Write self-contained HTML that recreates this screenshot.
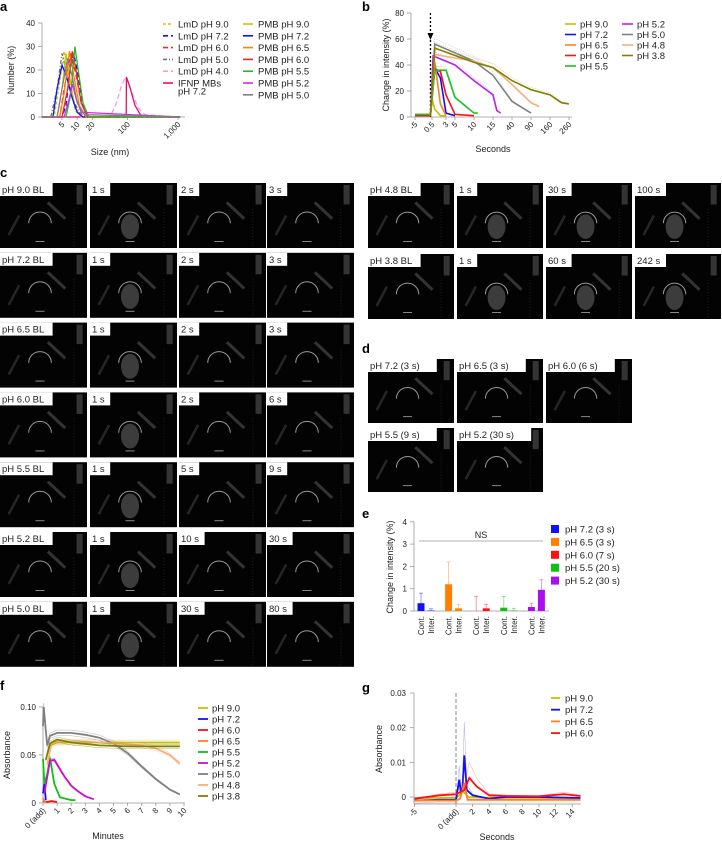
<!DOCTYPE html>
<html><head><meta charset="utf-8"><style>
html,body{margin:0;padding:0;background:#fff;width:722px;height:842px;overflow:hidden}
svg{display:block;font-family:"Liberation Sans",sans-serif}
</style></head><body>
<svg id="fig" width="722" height="842" viewBox="0 0 722 842" xmlns="http://www.w3.org/2000/svg"></svg>
<script>
// ---------- Panel a data ----------
const aSeriesNames = ["LmD pH 9.0","LmD pH 7.2","LmD pH 6.0","LmD pH 5.0","LmD pH 4.0","IFNP MBs","PMB pH 9.0","PMB pH 7.2","PMB pH 6.5","PMB pH 6.0","PMB pH 5.5","PMB pH 5.2","PMB pH 5.0"];
const aSizes = [
 [2,3.5,4.5,5.5,7,9,12,1100],
 [2,5,6,7,8.5,10,13,17,1100],
 [2,4.5,5.5,7.5,9.5,12,16,1100],
 [2,3,4,5,6,8,11,15,1100],
 [2,45,60,75,90,120,160,220,1100],
 [2,94,95,110,140,180,250,1100],
 [2,4,5,6,7.5,9,12,1100],
 [2,3.3,4,5,6,8,10,13,1100],
 [2,4.5,5.5,7,8.5,11,15,1100],
 [2,5,6.5,8,9.5,12,16,1100],
 [2,6,7.5,9,10.5,13,17,1100],
 [2,5.5,7,8,9.5,12,1100],
 [2,4,5,6.5,8,10,14,1100]
];
const aValues = [
 [0,0,15,28,15,3,0,0],
 [0,0,5,18,27,20,5,0,0],
 [0,0,12,27,18,6,0,0],
 [0,0,12,27,20,8,2,0,0],
 [0,0,6,13,17,11,4,1,0],
 [0,0,17,13,5,1,0,0],
 [0,0,12,27,14,4,0,0],
 [0,0,12,22,18,8,2,0,0],
 [0,0,10,28,18,5,0,0],
 [0,0,12,28,20,6,0,0],
 [0,0,10,30,20,6,0,0],
 [0,0,8,14,8,2,0],
 [0,0,12,25,17,6,1,0]
];
const aColors = ["#c8c800","#1010ff","#ff2020","#707070","#ee99ee","#e0106a","#c8c800","#1010ff","#ff8000","#ff2020","#20c020","#cc30dd","#808080"];
const aDash = ["3,2","5,3","5,3","4,2,1,2","5,3","","","","","","","",""];
const aYTicks = [0,10,20,30,40];
const aXTicks = [5,10,20,100,1000];
const aXTickLabels = ["5","10","20","100","1,000"];

// ---------- Panel b data ----------
const bTickVals = [-5,0.5,3,5,10,15,40,90,160,260];
const bYTicks = [0,20,40,60,80];
const bNames = ["pH 9.0","pH 7.2","pH 6.5","pH 6.0","pH 5.5","pH 5.2","pH 5.0","pH 4.8","pH 3.8"];
const bColors = ["#c8c000","#1010ff","#ff8020","#ff1010","#20c020","#bb20ee","#808080","#f4b080","#808000"];
const bX = [
 [-5,0,0.5,1,2,3],
 [-5,0,0.7,2,3,5],
 [-5,0,1,2,3],
 [-5,0,1,2,3,5,10],
 [-5,0,1,3,5,10,11],
 [0,0.7,5,10,15,20,25],
 [0,1,10,15,40,90],
 [0,1,10,15,40,90,120],
 [0,1,10,15,40,90,160,220,260]
];
const bY = [
 [2,2,14,6,1,1],
 [1,1,40,30,3,1],
 [1,1,42,10,1],
 [1,1,37,35,17,2,1],
 [2,2,36,36,15,3,3],
 [1,47,40,28,17,5,3],
 [1,56,43,32,12,3],
 [1,48,43,38,25,11,8],
 [1,53,42,38,28,21,17,11,10]
];

// ---------- Panel e data ----------
const eGroups = ["pH 7.2 (3 s)","pH 6.5 (3 s)","pH 6.0 (7 s)","pH 5.5 (20 s)","pH 5.2 (30 s)"];
const eColors = ["#1010ff","#ff8000","#ff1010","#10c010","#aa10ee"];
const eCont = [0.35,1.2,0.0,0.15,0.18];
const eContErr = [0.8,2.2,0.65,0.65,0.35];
const eInter = [0.02,0.12,0.12,0.02,0.95];
const eInterErr = [0.1,0.3,0.3,0.12,1.4];
const eYTicks = [0,1,2,3,4];

// ---------- Panel f data ----------
const fNames = ["pH 9.0","pH 7.2","pH 6.0","pH 6.5","pH 5.5","pH 5.2","pH 5.0","pH 4.8","pH 3.8"];
const fColors = ["#c8c000","#1010ff","#ff1010","#ff8020","#10c010","#cc10cc","#808080","#f4b080","#808000"];
const fX = [
 [0.5,1,3,5,7,9,9.7],
 [0,0.1,0.2],
 [0,0.3,0.6,1],
 [0,0.1,0.2],
 [0,0.1,0.3,0.5,0.8,1.2,2,2.3],
 [0.1,0.5,0.8,1.5,2,2.5,3,3.6],
 [0,0.05,0.3,0.5,1,2,3,4,5,6,7,8,9,9.7],
 [0.3,0.6,1,3,5,7,8,9,9.7],
 [0.2,0.5,1,2,4,6,9.7]
];
const fY = [
 [0.06,0.063,0.063,0.063,0.063,0.063,0.063],
 [0.01,0.02,0.003],
 [0.002,0.001,0.002,0.001],
 [0.005,0.002,0.001],
 [0.046,0.02,0.03,0.047,0.02,0.006,0.003,0.003],
 [0.01,0.044,0.045,0.028,0.018,0.012,0.007,0.004],
 [0.08,0.1,0.06,0.07,0.073,0.073,0.071,0.068,0.062,0.052,0.038,0.025,0.014,0.009],
 [0.04,0.062,0.064,0.064,0.062,0.06,0.057,0.05,0.041],
 [0.045,0.062,0.066,0.063,0.06,0.059,0.059]
];
const fYTicks = [0,0.05,0.10];
const fYTickLabels = ["0","0.05","0.10"];
const fXTicks = [0,1,2,3,4,5,6,7,8,9,10];

// ---------- Panel g data ----------
const gNames = ["pH 9.0","pH 7.2","pH 6.5","pH 6.0"];
const gColors = ["#c8c000","#1010ff","#ff8020","#ff1010"];
const gX = [
 [-5,0,0.9,1.5,4,8,12,15],
 [-5,-2,0,0.4,0.6,0.8,1,1.3,2,4,6,10,15],
 [-5,0,0.5,1,1.4,4,8,15],
 [-5,-2,0,1,1.6,2.5,4,6,10,13,15]
];
const gY = [
 [-0.0003,-0.0002,0.0015,0,-0.0002,-0.0002,-0.0003,-0.0002],
 [-0.001,-0.0008,-0.0008,0.005,0.001,0.003,0.012,0.002,0.0005,-0.0005,0,0,-0.0003],
 [-0.001,-0.001,-0.0005,0.004,-0.0008,-0.0008,-0.0008,-0.0008],
 [-0.0005,0.0005,0.0008,0.002,0.0055,0.003,0.0005,0.0003,0.0002,0.0008,0.0003]
];
const gYTicks = [0,0.01,0.02,0.03];
const gYTickLabels = ["0","0.01","0.02","0.03"];
const gXTicks = [-5,0,2,4,6,8,10,12,14];
const gXTickLabels = ["-5","0 (add)","2","4","6","8","10","12","14"];

// ---------- Ultrasound panels ----------
const cLeftLabels = [["pH 9.0 BL","1 s","2 s","3 s"],["pH 7.2 BL","1 s","2 s","3 s"],["pH 6.5 BL","1 s","2 s","3 s"],["pH 6.0 BL","1 s","2 s","6 s"],["pH 5.5 BL","1 s","5 s","9 s"],["pH 5.2 BL","1 s","10 s","30 s"],["pH 5.0 BL","1 s","30 s","80 s"]];
const cRightLabels = [["pH 4.8 BL","1 s","30 s","100 s"],["pH 3.8 BL","1 s","60 s","242 s"]];
const dLabels = [["pH 7.2 (3 s)","pH 6.5 (3 s)","pH 6.0 (6 s)"],["pH 5.5 (9 s)","pH 5.2 (30 s)"]];

// ---------- helpers ----------
const NS="http://www.w3.org/2000/svg";
const svg=document.getElementById('fig');
function mk(tag,attrs,parent){const e=document.createElementNS(NS,tag);for(const k in attrs)e.setAttribute(k,attrs[k]);(parent||svg).appendChild(e);return e;}
function txt(x,y,s,size,anchor,extra,parent){const t=mk('text',Object.assign({x:x,y:y,'font-size':size,'text-anchor':anchor||'start',fill:'#222'},extra||{}),parent);t.textContent=s;return t;}
function grp(name){const g=mk('g',{});return g;}
function pathOf(xs,ys,fx,fy){return xs.map((v,i)=>(i?'L':'M')+fx(v).toFixed(1)+','+fy(ys[i]).toFixed(1)).join(' ');}

// panel letters
[["a",0,11],["b",362,11],["c",0,177],["d",362,353],["e",362,518],["f",0,690],["g",362,692]].forEach(p=>{
 const t=txt(p[1],p[2],p[0],13,'start',{'font-weight':'bold',fill:'#000'});
 
 
});

// ===== Panel a =====
(function(){
 const xA=v=>62+50.4*(Math.log10(v)-0.699);
 const yA=v=>117-2.35*v;
 const g=grp('panel-a-chart');
 mk('line',{x1:42,y1:23,x2:42,y2:117,stroke:'#999','stroke-width':0.8},g);
 mk('line',{x1:42,y1:117,x2:185,y2:117,stroke:'#999','stroke-width':0.8},g);
 aYTicks.forEach(v=>{mk('line',{x1:38,y1:yA(v),x2:42,y2:yA(v),stroke:'#999','stroke-width':0.8},g);txt(35,yA(v)+3,String(v),8,'end',{},g);});
 aXTicks.forEach((v,i)=>{const x=xA(v);mk('line',{x1:x,y1:117,x2:x,y2:120,stroke:'#999','stroke-width':0.8},g);
  txt(x+3,125,aXTickLabels[i],8,'end',{transform:`rotate(-45 ${x+3} 125)`},g);});
 const yt=txt(14,70,'Number (%)',9,'middle',{transform:'rotate(-90 14 70)'},g);
 
 const xt=txt(110,155,'Size (nm)',9,'middle',{},g);
 
 aSeriesNames.forEach((n,i)=>{
  const p=mk('path',{d:pathOf(aSizes[i],aValues[i],xA,yA),fill:'none',stroke:aColors[i],'stroke-width':1.3,'stroke-dasharray':aDash[i]},g);
  
  
 });
 const lg=grp('a-legend');
 aSeriesNames.forEach((n,i)=>{
  const col=i<6?0:1, row=i<6?i:i-6;
  const x=col?243:163, y=24+row*11.8;
  mk('line',{x1:x,y1:y,x2:x+10,y2:y,stroke:aColors[i],'stroke-width':1.6,'stroke-dasharray':aDash[i]},lg);
  const t=txt(x+15,y+3.5,n,9.5,'start',{},lg);
  
  
 });
 txt(178,94.5,'pH 7.2',9.5,'start',{},lg);
})();

// ===== Panel b =====
(function(){
 const tickPos=[415,432,446,455,474,493,512,531,550,569]; // axis breakpoints
 const xB=v=>{for(let i=0;i<bTickVals.length-1;i++){if(v<=bTickVals[i+1]){const t=(v-bTickVals[i])/(bTickVals[i+1]-bTickVals[i]);return tickPos[i]+t*(tickPos[i+1]-tickPos[i]);}}return tickPos[tickPos.length-1];};
 const yB=v=>117-1.3*v;
 const g=grp('panel-b-chart');
 mk('line',{x1:411,y1:13,x2:411,y2:117,stroke:'#999','stroke-width':0.8},g);
 mk('line',{x1:411,y1:117,x2:572,y2:117,stroke:'#999','stroke-width':0.8},g);
 bYTicks.forEach(v=>{mk('line',{x1:407,y1:yB(v),x2:411,y2:yB(v),stroke:'#999','stroke-width':0.8},g);txt(404,yB(v)+3,String(v),8,'end',{},g);});
 bTickVals.forEach(v=>{const x=xB(v);mk('line',{x1:x,y1:117,x2:x,y2:120,stroke:'#999','stroke-width':0.8},g);
  txt(x+3,125,String(v),8,'end',{transform:`rotate(-45 ${x+3} 125)`},g);});
 const ax=xB(0);
 mk('line',{x1:ax,y1:13,x2:ax,y2:33,stroke:'#000','stroke-width':1.3,'stroke-dasharray':'2,2'},g);
 mk('path',{d:`M${ax-3},33 L${ax+3},33 L${ax},40 Z`,fill:'#000'},g);
 mk('line',{x1:ax,y1:40,x2:ax,y2:117,stroke:'#000','stroke-width':1.3,'stroke-dasharray':'2,2'},g);
 const yt=txt(389,65,'Change in intensity (%)',9,'middle',{transform:'rotate(-90 389 65)'},g);
 
 const xt=txt(493,152,'Seconds',9,'middle',{},g);
 
 bNames.forEach((n,i)=>{
  const p=mk('path',{d:pathOf(bX[i],bY[i],xB,yB),fill:'none',stroke:bColors[i],'stroke-width':1.6},g);
  
  
  const q=mk('path',{d:pathOf(bX[i],bY[i].map(v=>v*1.08),xB,yB),fill:'none',stroke:bColors[i],'stroke-width':0.5,'stroke-dasharray':'1,1',opacity:0.6},g);
  
  
 });
 const lg=grp('b-legend');
 bNames.forEach((n,i)=>{
  const col=i<5?0:1,row=i<5?i:i-5;const x=col?622:565,y=24+row*10.5;
  mk('line',{x1:x,y1:y,x2:x+11,y2:y,stroke:bColors[i],'stroke-width':1.6},lg);
  const t=txt(x+15,y+3.5,n,9.5,'start',{},lg);
  
  
 });
})();

// ===== Ultrasound images =====
function usImage(x,y,w,h,label,bright,name){
 const g=grp(name);
 mk('rect',{x:x,y:y,width:w,height:h,fill:'#030303'},g);
 const cx=x+w*0.46,cy=y+h*0.62,r=w*0.13;
 if(bright) mk('ellipse',{cx:cx,cy:cy+r*0.3,rx:r*0.8,ry:r*1.1,fill:'#555',opacity:0.7},g);
 mk('path',{d:`M${cx-r},${cy} A${r},${r} 0 0 1 ${cx+r},${cy}`,fill:'none',stroke:'#999','stroke-width':1},g);
 mk('line',{x1:cx-r*0.4,y1:y+h*0.9,x2:cx+r*0.4,y2:y+h*0.9,stroke:'#888','stroke-width':1},g);
 mk('line',{x1:x+w*0.55,y1:y+h*0.3,x2:x+w*0.75,y2:y+h*0.55,stroke:'#333','stroke-width':3},g);
 mk('line',{x1:x+w*0.1,y1:y+h*0.8,x2:x+w*0.22,y2:y+h*0.5,stroke:'#262626','stroke-width':2.5},g);
 mk('rect',{x:x+w*0.88,y:y+2,width:w*0.07,height:h*0.3,fill:'#666',opacity:0.5},g);
 mk('line',{x1:x+w*0.85,y1:y+h*0.4,x2:x+w*0.85,y2:y+h,stroke:'#333','stroke-width':0.6,'stroke-dasharray':'1,2'},g);
 const tw=label.length*5.4+4;
 mk('rect',{x:x,y:y,width:tw,height:13,fill:'#fff'},g);
 txt(x+2,y+10,label,9.5,'start',{},g);
}
cLeftLabels.forEach((row,r)=>row.forEach((l,c)=>{
 usImage([0,90,179,267][c],183+r*69.8,87,65,l,c===1,'c-image-'+l.replace(/[^a-zA-Z0-9]+/g,'-').toLowerCase());
}));
cRightLabels.forEach((row,r)=>row.forEach((l,c)=>{
 usImage([368,457,546,635][c],183+r*71,86,65,l,c>=1,'c-image-'+l.replace(/[^a-zA-Z0-9]+/g,'-').toLowerCase());
}));
dLabels.forEach((row,r)=>row.forEach((l,c)=>{
 usImage([368,457,546][c],359+r*69,86,64,l,false,'d-image-'+l.replace(/[^a-zA-Z0-9]+/g,'-').toLowerCase());
}));

// ===== Panel e =====
(function(){
 const yE=v=>611-22.3*v;
 const g=grp('panel-e-chart');
 mk('line',{x1:414,y1:522,x2:414,y2:611,stroke:'#999','stroke-width':0.8},g);
 mk('line',{x1:414,y1:611,x2:549,y2:611,stroke:'#999','stroke-width':0.8},g);
 eYTicks.forEach(v=>{mk('line',{x1:410,y1:yE(v),x2:414,y2:yE(v),stroke:'#999','stroke-width':0.8},g);txt(407,yE(v)+3,String(v),8,'end',{},g);});
 const yt=txt(393,567,'Change in intensity (%)',9,'middle',{transform:'rotate(-90 393 567)'},g);
 
 mk('line',{x1:419,y1:541,x2:543,y2:541,stroke:'#999','stroke-width':0.8},g);
 txt(481,538,'NS',9,'middle',{},g);
 eGroups.forEach((n,i)=>{
  const xc=421+i*27.6, xi=xc+10;
  [[xc,eCont[i],eContErr[i],'cont'],[xi,eInter[i],eInterErr[i],'inter']].forEach(b=>{
   mk('line',{x1:b[0],y1:yE(b[1]),x2:b[0],y2:yE(b[2]),stroke:eColors[i],'stroke-width':0.8,opacity:0.5},g);
   mk('line',{x1:b[0]-2,y1:yE(b[2]),x2:b[0]+2,y2:yE(b[2]),stroke:eColors[i],'stroke-width':0.8,opacity:0.5},g);
   const r=mk('rect',{x:b[0]-3.5,y:yE(b[1]),width:7,height:Math.max(0,yE(0)-yE(b[1])),fill:eColors[i]},g);
   
   
   const lbl=b[3]==='cont'?'Cont.':'Inter.';
   txt(b[0]+3,616,lbl,8,'end',{transform:`rotate(-90 ${b[0]+3} 616)`},g);
  });
 });
 const lg=grp('e-legend');
 eGroups.forEach((n,i)=>{
  const y=529+i*12.9;
  mk('rect',{x:551,y:y-4,width:8,height:8,fill:eColors[i]},lg);
  const t=txt(565,y+3.5,n,9.5,'start',{},lg);
  
  
 });
})();

// ===== Panel f =====
(function(){
 const xF=m=>43+14.1*m;
 const yF=v=>803-960*v;
 const g=grp('panel-f-chart');
 mk('line',{x1:43,y1:707,x2:43,y2:803,stroke:'#999','stroke-width':0.8},g);
 mk('line',{x1:43,y1:803,x2:185,y2:803,stroke:'#999','stroke-width':0.8},g);
 fYTicks.forEach((v,i)=>{mk('line',{x1:39,y1:yF(v),x2:43,y2:yF(v),stroke:'#999','stroke-width':0.8},g);txt(36,yF(v)+3,fYTickLabels[i],8,'end',{},g);});
 fXTicks.forEach(v=>{const x=xF(v);mk('line',{x1:x,y1:803,x2:x,y2:806,stroke:'#999','stroke-width':0.8},g);
  txt(x+3,811,v===0?'0 (add)':String(v),8,'end',{transform:`rotate(-45 ${x+3} 811)`},g);});
 const yt=txt(10,755,'Absorbance',9,'middle',{transform:'rotate(-90 10 755)'},g);
 
 const xt=txt(108,839,'Minutes',9,'middle',{},g);
 
 fNames.forEach((n,i)=>{
  [1.04,0.96].forEach(k=>{mk('path',{d:pathOf(fX[i],fY[i].map(v=>v*k),xF,yF),fill:'none',stroke:fColors[i],'stroke-width':0.5,opacity:0.6},g);});
  const p=mk('path',{d:pathOf(fX[i],fY[i],xF,yF),fill:'none',stroke:fColors[i],'stroke-width':1.8},g);
  
  
 });
 const lg=grp('f-legend');
 fNames.forEach((n,i)=>{
  const y=708+i*11;
  mk('line',{x1:198,y1:y,x2:208,y2:y,stroke:fColors[i],'stroke-width':1.8},lg);
  const t=txt(212,y+3.5,n,9.5,'start',{},lg);
  
  
 });
})();

// ===== Panel g =====
(function(){
 const xG=s=>456+8.3*s;
 const yG=v=>797-3467*v;
 const g=grp('panel-g-chart');
 mk('line',{x1:414,y1:693,x2:414,y2:804,stroke:'#999','stroke-width':0.8},g);
 mk('line',{x1:414,y1:804,x2:581,y2:804,stroke:'#999','stroke-width':0.8},g);
 gYTicks.forEach((v,i)=>{mk('line',{x1:410,y1:yG(v),x2:414,y2:yG(v),stroke:'#999','stroke-width':0.8},g);txt(406,yG(v)+3,gYTickLabels[i],8,'end',{},g);});
 gXTicks.forEach((v,i)=>{const x=xG(v);mk('line',{x1:x,y1:804,x2:x,y2:807,stroke:'#999','stroke-width':0.8},g);
  txt(x+3,812,gXTickLabels[i],8,'end',{transform:`rotate(-45 ${x+3} 812)`},g);});
 mk('line',{x1:xG(0),y1:693,x2:xG(0),y2:804,stroke:'#666','stroke-width':0.8,'stroke-dasharray':'4,2'},g);
 const yt=txt(382,749,'Absorbance',9,'middle',{transform:'rotate(-90 382 749)'},g);
 
 const xt=txt(497,840,'Seconds',9,'middle',{},g);
 
 gNames.forEach((n,i)=>{
  mk('path',{d:pathOf(gX[i],gY[i].map(v=>v*1.8),xG,yG),fill:'none',stroke:gColors[i],'stroke-width':0.6,opacity:0.3},g);
  const p=mk('path',{d:pathOf(gX[i],gY[i],xG,yG),fill:'none',stroke:gColors[i],'stroke-width':1.8},g);
  
  
 });
 const lg=grp('g-legend');
 gNames.forEach((n,i)=>{
  const y=698+i*11.7;
  mk('line',{x1:551,y1:y,x2:560,y2:y,stroke:gColors[i],'stroke-width':1.8},lg);
  const t=txt(565,y+3.5,n,9.5,'start',{},lg);
  
  
 });
})();
</script>
</body></html>
